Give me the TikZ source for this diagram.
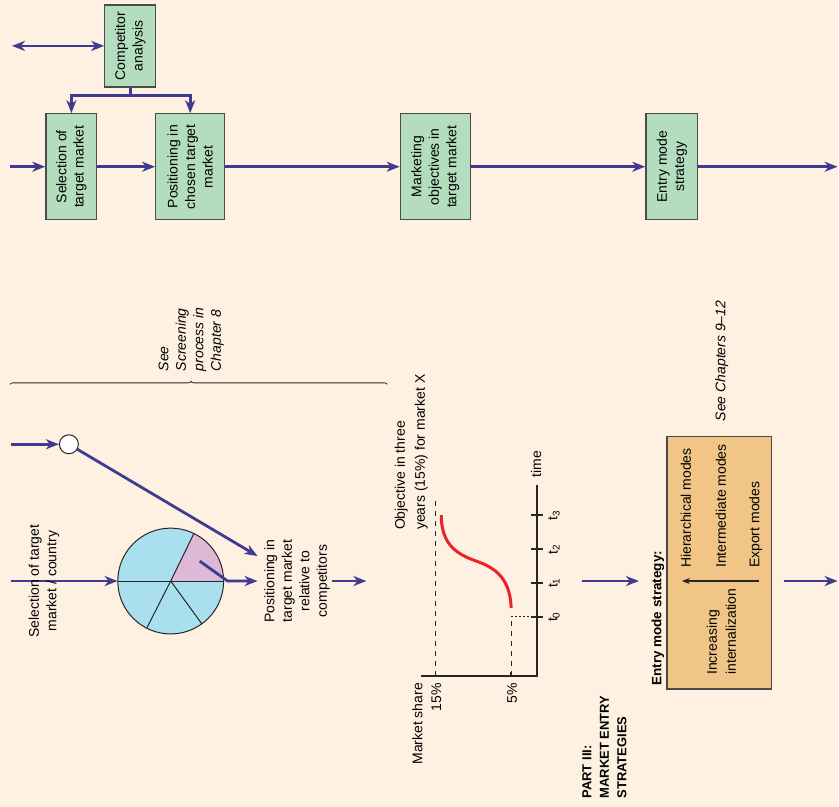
\documentclass[tikz,border=0pt]{standalone}
\usepackage{fontspec}
\setmainfont{Liberation Sans}
\usetikzlibrary{arrows.meta,decorations.pathreplacing}
\definecolor{bg}{HTML}{FEF1E1}
\definecolor{boxgreen}{HTML}{B3DDBE}
\definecolor{boxline}{HTML}{4A4A4A}
\definecolor{flowblue}{HTML}{3F3A92}
\definecolor{pieblue}{HTML}{AADFF0}
\definecolor{piepink}{HTML}{DDB9D7}
\definecolor{modebox}{HTML}{F0C585}
\definecolor{curvered}{HTML}{E8232B}
\begin{document}
\begin{tikzpicture}[x=1pt,y=1pt,
  flowtip/.tip={Stealth[length=13pt,width=10pt,inset=4pt]},
  flow/.style={draw=flowblue, line width=2.8pt, -flowtip},
  flowline/.style={draw=flowblue, line width=2.8pt},
  gbox/.style={draw=boxline, fill=boxgreen, line width=1.3pt, rotate=90,
    align=center, inner sep=0pt, minimum width=106,
    font=\fontsize{14}{17.5}\selectfont},
  rtext/.style={rotate=90, inner sep=1pt, font=\fontsize{14}{17.5}\selectfont},
  axisline/.style={draw=black!85, line width=1.4pt},
  thinline/.style={draw=black!85, line width=1pt}]

% background of the page
\path[fill=bg] (0,0) rectangle (839,-808);

% ---------- top row: process boxes ----------
\node[gbox, minimum width=82, minimum height=51] (comp) at (130.5,-46) {Competitor\\analysis};
\node[gbox, minimum height=51] (sel) at (71.5,-167) {Selection of\\target market};
\node[gbox, minimum height=69] (pos) at (190.5,-167) {Positioning in\\chosen target\\market};
\node[gbox, minimum height=70] (mkt) at (436,-167) {Marketing\\objectives in\\target market};
\node[gbox, minimum height=52] (entry) at (673,-167) {Entry mode\\strategy};

\coordinate (in1) at (10,-167);
\coordinate (out1) at (839,-167);
\coordinate (dblL) at (12,-46);
\coordinate (split) at (130.5,-96);

\draw[flow] (in1) -- (sel.north);
\draw[flow] (sel.south) -- (pos.north);
\draw[flow] (pos.south) -- (mkt.north);
\draw[flow] (mkt.south) -- (entry.north);
\draw[flow] (entry.south) -- (out1);
\draw[flow, flowtip-flowtip] (dblL) -- (comp.north);
\draw[flowline] (comp.west) -- (split);
\draw[flow] (split) -| (sel.east);
\draw[flow] (split) -| (pos.east);

% ---------- brace with screening note ----------
\coordinate (brL) at (10,-385);
\coordinate (brR) at (388,-385);
\draw[decorate, decoration={brace, amplitude=3pt, aspect=0.48}, line width=0.8pt, black!85] (brL) -- (brR);
\node[rtext, anchor=west, align=left, font=\itshape\fontsize{14}{17.5}\selectfont] (screen) at (191.5,-373)
  {See\\Screening\\process in\\Chapter 8};

% ---------- selection / positioning sketch ----------
\node[circle, draw=black!85, fill=white, line width=1pt, minimum size=19, inner sep=0pt] (c1) at (69,-445) {};
\coordinate (in2) at (11,-445);
\coordinate (ptip) at (258,-557);
\draw[flow] (in2) -- (c1.west);
\draw[flow] (c1) -- (ptip);

\node[circle, minimum size=106, inner sep=0pt] (pie) at (171,-582) {};
\fill[pieblue] (pie.center) circle[radius=53];
\fill[piepink] (pie.center) -- ++(0:53) arc[start angle=0, end angle=64, radius=53] -- cycle;
\draw[thinline] (pie.west) -- (pie.east);
\draw[thinline] (pie.center) -- ++(64:53);
\draw[thinline] (pie.center) -- ++(243:53);
\draw[thinline] (pie.center) -- ++(306:53);
\draw[thinline] (pie.center) circle[radius=53];

\coordinate (in3) at (11,-582);
\draw[flow] (in3) -- (pie.west);
\coordinate (pinkpt) at (200,-562);
\coordinate (bend) at (228,-582);
\coordinate (ptip2) at (258,-582);
\draw[flow] (pinkpt) -- (bend) -- (ptip2);

\node[rtext, align=center] (seltxt) at (44,-582) {Selection of target\\market / country};
\node[rtext, align=center] (postxt) at (297.5,-582) {Positioning in\\target market\\relative to\\competitors};
\coordinate (a0s) at (333,-582);
\coordinate (a0e) at (367,-582);
\draw[flow] (a0s) -- (a0e);

% ---------- market share objective chart ----------
\coordinate (orig) at (538,-677);
\coordinate (xend) at (422,-677);
\coordinate (tend) at (538,-486);
\draw[axisline] (xend) -- (orig) -- (tend);
\foreach \ty in {516,550,584,618}
  \draw[axisline] (532,-\ty) -- (544,-\ty);
\draw[axisline] (436,-677) -- (436,-673);
\draw[axisline] (512,-677) -- (512,-673);
\draw[thinline, dash pattern=on 5pt off 5pt] (436,-677) -- (436,-501);
\draw[thinline, dash pattern=on 5pt off 5pt] (512,-677) -- (512,-618);
\draw[thinline, dash pattern=on 2pt off 2pt] (512,-618) -- (532,-618);
\draw[curvered, line width=3pt]
  (512,-609) .. controls (511,-580) and (497,-569) .. (477,-562)
  .. controls (457,-555) and (442,-545) .. (442,-516);

\node[rtext] (t3) at (555,-516) {t\textsubscript{3}};
\node[rtext] (t2) at (555,-550) {t\textsubscript{2}};
\node[rtext] (t1) at (555,-584) {t\textsubscript{1}};
\node[rtext] (t0) at (555,-618) {t\textsubscript{0}};
\node[rtext, anchor=west] (time) at (537,-479) {time};
\node[rtext, anchor=east] (mshare) at (418,-683) {Market share};
\node[rtext, anchor=east] (p15) at (437,-683) {15\%};
\node[rtext, anchor=east] (p5) at (513,-683) {5\%};
\node[rtext, anchor=west, align=left, font=\fontsize{14}{20}\selectfont] (obj) at (412,-532)
  {Objective in three\\years (15\%) for market X};

\node[rtext, anchor=west, align=left, font=\bfseries\fontsize{13}{17.5}\selectfont] (part) at (605.5,-801)
  {PART III:\\MARKET ENTRY\\STRATEGIES};

% ---------- entry mode strategy box ----------
\node[draw=boxline, fill=modebox, line width=1.3pt, rotate=90, minimum width=253, minimum height=105, inner sep=0pt]
  (ems) at (720.5,-563.5) {};
\node[rtext, anchor=west, font=\bfseries\fontsize{13.5}{17}\selectfont] (emlabel) at (659,-688) {Entry mode strategy:};
\node[rtext, anchor=west] (hier) at (687,-570) {Hierarchical modes};
\node[rtext, anchor=west] (inter) at (722,-570) {Intermediate modes};
\node[rtext, anchor=west] (expo) at (757,-570) {Export modes};
\node[rtext, anchor=west, align=left, font=\fontsize{14}{19}\selectfont] (incr) at (722.5,-677) {Increasing\\internalization};
\coordinate (intS) at (760,-582);
\coordinate (intE) at (683,-582);
\draw[thinline, line width=1.2pt, -{Stealth[length=8pt,width=6pt]}] (intS) -- (intE);

\coordinate (a1s) at (583,-582);
\coordinate (a1e) at (640,-582);
\draw[flow] (a1s) -- (a1e);
\coordinate (a2s) at (785,-582);
\coordinate (a2e) at (839,-582);
\draw[flow] (a2s) -- (a2e);

\node[rtext, anchor=west, font=\itshape\fontsize{14}{17.5}\selectfont] (seech) at (723,-423) {See Chapters 9--12};

\end{tikzpicture}
\end{document}
